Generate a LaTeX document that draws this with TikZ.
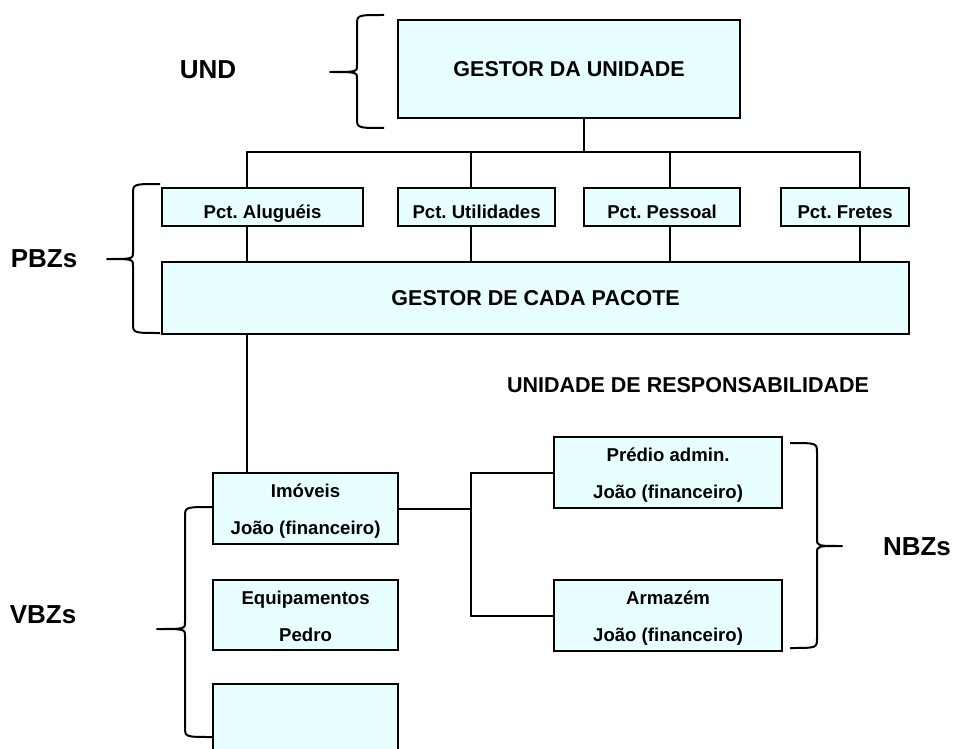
\documentclass[tikz,border=0pt]{standalone}
\usepackage{fontspec}
\setmainfont{Liberation Sans}
\definecolor{boxfill}{HTML}{E8FFFF}
% fixed line heights so two-line boxes sit alike, accents or not
\newcommand\hstrut{\rule{0pt}{19pt}}
\newcommand\dstrut{\rule[-4pt]{0pt}{4pt}}
\newcommand\bracel[6]{% tip x, tip y, stem x, end x, top y, bottom y
  \draw[brace] (#4,#5) .. controls (#3,#5) and (#3,#5) .. (#3,#5+10)
    -- (#3,#2-7) .. controls (#3,#2) and (#3,#2) .. (#1,#2)
    .. controls (#3,#2) and (#3,#2) .. (#3,#2+7)
    -- (#3,#6-10) .. controls (#3,#6) and (#3,#6) .. (#4,#6);}
\begin{document}
\frenchspacing
\begin{tikzpicture}[x=1pt,y=-1pt,
  box/.style={draw=black,line width=2.2pt,fill=boxfill,inner sep=0pt,
    anchor=north west,align=center,font=\bfseries},
  link/.style={line width=1.8pt,line cap=rect},
  brace/.style={line width=2pt,line join=round},
  side/.style={font=\fontsize{26}{30}\selectfont\bfseries},
  big/.style={font=\fontsize{21.5}{26}\selectfont\bfseries},
  small/.style={font=\fontsize{18.6}{37}\selectfont\bfseries},
  pct/.style={box,small,text height=24pt,text depth=0.6pt,minimum height=38pt},
  two/.style={box,small}]
\useasboundingbox (0,0) rectangle (955,749);
\clip (0,0) rectangle (955,749);

% unit manager
\node[box,big,minimum width=342pt,minimum height=98pt] (gu) at (397,19) {GESTOR DA UNIDADE};

% decision packages
\node[pct,minimum width=201pt] (p1) at (161,187) {Pct. Alugu\'eis};
\node[pct,minimum width=157pt] (p2) at (397,187) {Pct. Utilidades};
\node[pct,minimum width=156pt] (p3) at (583,187) {Pct. Pessoal};
\node[pct,minimum width=128pt] (p4) at (780,187) {Pct. Fretes};

\node[box,big,minimum width=747pt,minimum height=72pt] (gp) at (161,261) {GESTOR DE CADA PACOTE};

\node[big] (ur) at (688,385) {UNIDADE DE RESPONSABILIDADE};

% responsibility units
\node[two,minimum width=185pt,minimum height=71pt] (im) at (212,472) {\hstrut Im\'oveis\\Jo\~ao (financeiro)\dstrut};
\node[two,minimum width=185pt,minimum height=70pt] (eq) at (212,579) {\hstrut Equipamentos\\Pedro\dstrut};
\node[box,minimum width=185pt,minimum height=90pt] (vz) at (212,683) {};

\node[two,minimum width=228pt,minimum height=71pt] (pr) at (553,436) {\hstrut Pr\'edio admin.\\Jo\~ao (financeiro)\dstrut};
\node[two,minimum width=228pt,minimum height=71pt] (ar) at (553,579) {\hstrut Armaz\'em\\Jo\~ao (financeiro)\dstrut};

% side labels
\node[side] (und) at (208,70) {UND};
\node[side] (pbz) at (44,259) {PBZs};
\node[side] (vbz) at (43,615) {VBZs};
\node[side] (nbz) at (917,547) {NBZs};

% tree connectors
\coordinate (top) at (584,152);
\draw[link] (gu.south -| top) -- (top);
\draw[link] (p1.north -| 247,0) -- (247,152) -- (860,152) -- (p4.north -| 860,0);
\draw[link] (p2.north -| 471,0) -- (471,152);
\draw[link] (p3.north -| 670,0) -- (670,152);
\draw[link] (p1.south -| 247,0) -- (gp.north -| 247,0);
\draw[link] (p2.south -| 471,0) -- (gp.north -| 471,0);
\draw[link] (p3.south -| 670,0) -- (gp.north -| 670,0);
\draw[link] (p4.south -| 860,0) -- (gp.north -| 860,0);
\draw[link] (gp.south -| 247,0) -- (im.north -| 247,0);

\coordinate (fork) at (471,507);
\draw[link] (im.east) -- (im.east -| fork);
\draw[link] (pr.west) -- (pr.west -| fork) -- (ar.west -| fork) -- (ar.west);

% braces
\bracel{330}{72}{357}{384}{15}{128}
\bracel{107}{259}{133}{160}{184}{333}
\bracel{157}{629}{185}{212}{507}{737}
\bracel{842}{546}{817}{790}{443}{648}
\end{tikzpicture}
\end{document}
